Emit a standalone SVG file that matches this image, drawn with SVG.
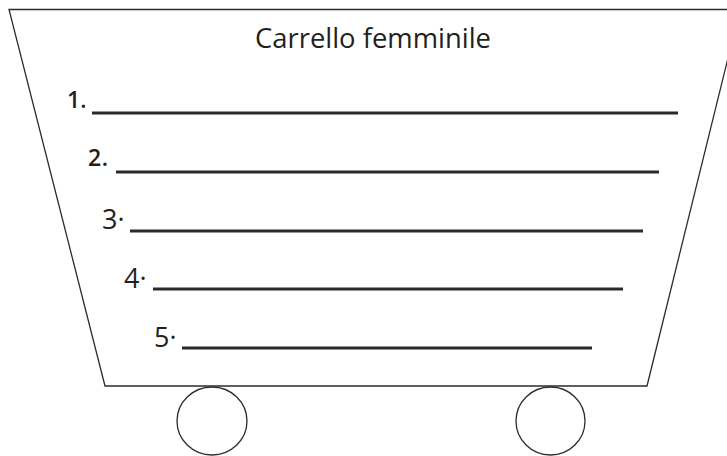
<svg xmlns="http://www.w3.org/2000/svg" width="727" height="456" viewBox="0 0 727 456">
<style>
.outline{fill:none;stroke:#2b2b2b;stroke-width:1.3}
.wheel{fill:#fff;stroke:#2b2b2b;stroke-width:1.3}
.rule{stroke:#2a2a2a;stroke-width:2.8}
.t{font-family:"Open Sans","Liberation Sans",sans-serif;fill:#231f20}
.num{font-size:23px;font-weight:600}
.big{font-size:27px}
</style>
<rect width="727" height="456" fill="#fff"/>
<g id="cart">
<polygon class="outline" points="9,9.5 740,9.5 647,386 105,386"/>
</g>
<g id="wheel-left"><ellipse class="wheel" cx="212" cy="421" rx="35" ry="34"/></g>
<g id="wheel-right"><ellipse class="wheel" cx="550.5" cy="421" rx="34.5" ry="34"/></g>
<g id="title"><text class="t" x="255" y="48" font-size="28" textLength="236" lengthAdjust="spacingAndGlyphs">Carrello femminile</text></g>
<g id="item1"><text class="t num" x="67" y="108">1.</text><line class="rule" x1="92" y1="113" x2="678" y2="113"/></g>
<g id="item2"><text class="t num" x="88" y="166" textLength="20">2.</text><line class="rule" x1="116" y1="172" x2="659" y2="172"/></g>
<g id="item3"><text class="t big" x="102" y="229">3·</text><line class="rule" x1="130" y1="231" x2="643" y2="231"/></g>
<g id="item4"><text class="t big" x="124" y="288">4·</text><line class="rule" x1="153" y1="289" x2="623" y2="289"/></g>
<g id="item5"><text class="t big" x="154" y="347">5·</text><line class="rule" x1="182" y1="348" x2="592" y2="348"/></g>
</svg>
